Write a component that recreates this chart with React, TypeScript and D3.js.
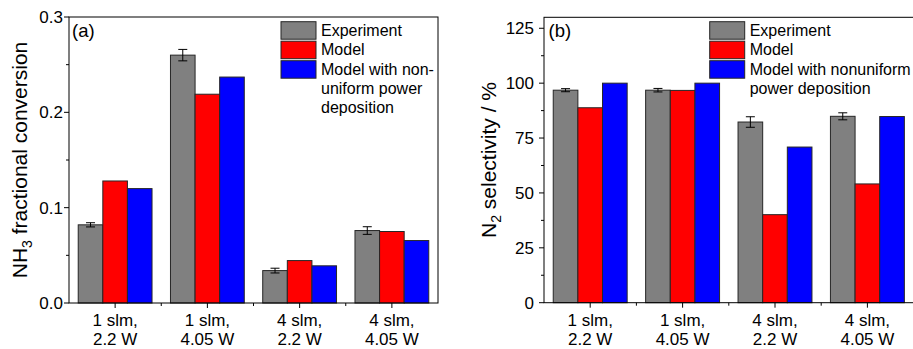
import React, { useEffect, useRef } from 'react';
import * as d3 from 'd3';

// categories (two label lines each)
const categories = ['1 slm, 2.2 W', '1 slm, 4.05 W', '4 slm, 2.2 W', '4 slm, 4.05 W'];
const categoryLines = [['1 slm,', '2.2 W'], ['1 slm,', '4.05 W'], ['4 slm,', '2.2 W'], ['4 slm,', '4.05 W']];
const seriesKeys = ['Experiment', 'Model', 'Nonuniform'];
const seriesColors = ['#808080', '#ff0000', '#0000ff'];

// (a) NH3 fractional conversion
const conversionExperiment = [0.082, 0.260, 0.034, 0.076];
const conversionExperimentErr = [0.0022, 0.006, 0.0025, 0.004];
const conversionModel = [0.128, 0.219, 0.0445, 0.075];
const conversionNonuniform = [0.120, 0.237, 0.039, 0.0655];
const conversionTicks = [0, 0.1, 0.2, 0.3];
const conversionMinorTicks = [0.05, 0.15, 0.25];
const legendA = [['Experiment'], ['Model'], ['Model with non-', 'uniform power', 'deposition']];

// (b) N2 selectivity
const selectivityExperiment = [96.8, 96.8, 82.3, 84.9];
const selectivityExperimentErr = [0.7, 0.8, 2.4, 1.6];
const selectivityModel = [88.8, 96.7, 40.1, 54.1];
const selectivityNonuniform = [100, 100, 70.9, 84.8];
const selectivityTicks = [0, 25, 50, 75, 100, 125];
const selectivityMinorTicks = [12.5, 37.5, 62.5, 87.5, 112.5];
const legendB = [['Experiment'], ['Model'], ['Model with nonuniform', 'power deposition']];

const FONT = '"Liberation Sans", Arial, sans-serif';

interface PanelOpts {
  left: number; right: number; top: number; bottom: number;
  yMax: number; ticks: number[]; minor: number[]; fmt: (v: number) => string;
  labelGap: number;
  values: number[][]; err: number[];
  tag: string; tagX: number;
  legend: string[][]; legendX: number;
  titleMain: string; titleSub: string; titleRest: string; titleX: number;
}

function drawPanel(svg: d3.Selection<SVGSVGElement, unknown, null, undefined>, o: PanelOpts) {
  const g = svg.append('g');
  const x0 = d3.scaleBand<string>().domain(categories).range([o.left, o.right]).paddingInner(0.2).paddingOuter(0.1);
  const x1 = d3.scaleBand<string>().domain(seriesKeys).range([0, x0.bandwidth()]);
  const y = d3.scaleLinear().domain([0, o.yMax]).range([o.bottom, o.top]);

  // bars
  categories.forEach((c, ci) => {
    seriesKeys.forEach((s, si) => {
      const v = o.values[si][ci];
      g.append('rect')
        .attr('x', (x0(c) || 0) + (x1(s) || 0))
        .attr('y', y(v))
        .attr('width', x1.bandwidth())
        .attr('height', y(0) - y(v))
        .attr('fill', seriesColors[si])
        .attr('stroke', '#262626')
        .attr('stroke-width', 1);
    });
    // error bar on experiment
    const cx = (x0(c) || 0) + (x1('Experiment') || 0) + x1.bandwidth() / 2;
    const v = o.values[0][ci];
    const e = o.err[ci];
    g.append('line').attr('x1', cx).attr('x2', cx).attr('y1', y(v + e)).attr('y2', y(v - e)).attr('stroke', '#000');
    [v + e, v - e].forEach(t => {
      g.append('line').attr('x1', cx - 4.5).attr('x2', cx + 4.5).attr('y1', y(t)).attr('y2', y(t)).attr('stroke', '#000');
    });
  });

  // frame
  g.append('rect')
    .attr('x', o.left).attr('y', o.top)
    .attr('width', o.right - o.left).attr('height', o.bottom - o.top)
    .attr('fill', 'none').attr('stroke', '#000').attr('stroke-width', 1);

  // y ticks
  o.ticks.forEach(t => {
    g.append('line').attr('x1', o.left - 5).attr('x2', o.left).attr('y1', y(t)).attr('y2', y(t)).attr('stroke', '#000');
    g.append('text')
      .attr('x', o.left - o.labelGap).attr('y', y(t) + 6)
      .attr('text-anchor', 'end').attr('font-size', 17).attr('font-family', FONT)
      .attr('fill', '#000').text(o.fmt(t));
  });
  o.minor.forEach(t => {
    g.append('line').attr('x1', o.left - 3).attr('x2', o.left).attr('y1', y(t)).attr('y2', y(t)).attr('stroke', '#000');
  });

  // x ticks and labels
  const step = x0.step();
  categories.forEach((c, ci) => {
    const cx = (x0(c) || 0) + x0.bandwidth() / 2;
    g.append('line').attr('x1', cx).attr('x2', cx).attr('y1', o.bottom).attr('y2', o.bottom + 5).attr('stroke', '#000');
    categoryLines[ci].forEach((line, li) => {
      g.append('text')
        .attr('x', cx).attr('y', 325.5 + li * 19.5)
        .attr('text-anchor', 'middle').attr('font-size', 17).attr('font-family', FONT)
        .attr('fill', '#000').text(line);
    });
  });
  [1, 2, 3].forEach(k => {
    const bx = o.left + k * step;
    g.append('line').attr('x1', bx).attr('x2', bx).attr('y1', o.bottom).attr('y2', o.bottom + 3).attr('stroke', '#000');
  });

  // panel tag
  g.append('text').attr('x', o.tagX).attr('y', 37).attr('font-size', 18.5).attr('font-family', FONT).text(o.tag);

  // legend
  let row = 0;
  o.legend.forEach((lines, si) => {
    const by = 21.7 + si * 19.5;
    g.append('rect')
      .attr('x', o.legendX).attr('y', by).attr('width', 35).attr('height', 17.5)
      .attr('fill', seriesColors[si]).attr('stroke', '#262626');
    lines.forEach((ln, li) => {
      g.append('text')
        .attr('x', o.legendX + 40).attr('y', 36 + (row + li) * 19.3)
        .attr('font-size', 16).attr('font-family', FONT).attr('fill', '#000').text(ln);
    });
    row += lines.length;
  });

  // y axis title
  const cy = (o.top + o.bottom) / 2;
  const title = g.append('text')
    .attr('transform', `translate(${o.titleX},${cy}) rotate(-90)`)
    .attr('text-anchor', 'middle').attr('font-size', 21).attr('font-family', FONT).attr('fill', '#000');
  title.append('tspan').text(o.titleMain);
  title.append('tspan').attr('font-size', 14).attr('dy', 5).text(o.titleSub);
  title.append('tspan').attr('dy', -5).text(o.titleRest);
}

export default function App() {
  const svgRef = useRef<SVGSVGElement>(null);

  useEffect(() => {
    if (!svgRef.current) return;
    const svg = d3.select(svgRef.current);
    svg.selectAll('*').remove();

    drawPanel(svg, {
      left: 69, right: 438, top: 17, bottom: 303,
      yMax: 0.3, ticks: conversionTicks, minor: conversionMinorTicks, fmt: d3.format('.1f'),
      labelGap: 6,
      values: [conversionExperiment, conversionModel, conversionNonuniform], err: conversionExperimentErr,
      tag: '(a)', tagX: 72, legend: legendA, legendX: 281,
      titleMain: 'NH', titleSub: '3', titleRest: ' fractional conversion', titleX: 26.5,
    });
    drawPanel(svg, {
      left: 544, right: 913.6, top: 17.3, bottom: 302.7,
      yMax: 130, ticks: selectivityTicks, minor: selectivityMinorTicks, fmt: d3.format('d'),
      labelGap: 10,
      values: [selectivityExperiment, selectivityModel, selectivityNonuniform], err: selectivityExperimentErr,
      tag: '(b)', tagX: 548.5, legend: legendB, legendX: 709.7,
      titleMain: 'N', titleSub: '2', titleRest: ' selectivity / %', titleX: 496,
    });
  }, []);

  return (
    <svg
      ref={svgRef}
      width={913}
      height={349}
      style={{ position: 'absolute', left: 0, top: 0, background: '#fff' }}
    />
  );
}
